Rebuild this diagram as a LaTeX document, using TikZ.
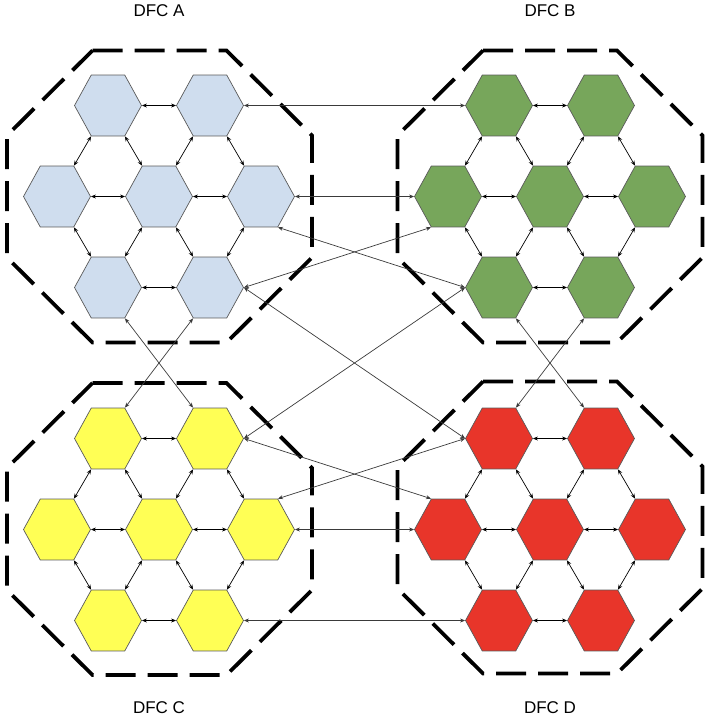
\documentclass[tikz,border=0pt]{standalone}
\usepackage{fontspec}
\setmainfont{Liberation Sans}
\usetikzlibrary{shapes.geometric,arrows.meta}
\definecolor{blueA}{HTML}{CFDDEE}
\definecolor{greenB}{HTML}{77A65B}
\definecolor{yellowC}{HTML}{FFFF55}
\definecolor{redD}{HTML}{E8352A}
\definecolor{hexline}{HTML}{5A5A5A}
\definecolor{farline}{HTML}{3A3A3A}
\tikzset{
  hexcell/.style={regular polygon, regular polygon sides=6, minimum size=67pt,
    inner sep=0pt, draw=hexline, line width=0.7pt, yscale=1.05, transform shape},
  link/.style={{Stealth[length=5pt,width=4pt]}-{Stealth[length=5pt,width=4pt]},
    line width=0.7pt, draw=black},
  farlink/.style={link, draw=farline},
  octo/.style={draw=black, line width=3.8pt, dash pattern=on 30pt off 12pt},
  lab/.style={font=\fontsize{17}{20}\selectfont, inner sep=0pt}
}
\begin{document}
\begin{tikzpicture}[x=1pt,y=-1pt]
\useasboundingbox (0,0) rectangle (705,718);
% octagons
\foreach \cx/\cy in {159.5/196.5, 550/196.5, 159.5/529, 550/527.5}{
  \draw[octo] (\cx-67,\cy-146) -- (\cx+67,\cy-146) -- (\cx+152.5,\cy-61)
    -- (\cx+152.5,\cy+61) -- (\cx+67,\cy+146) -- (\cx-67,\cy+146)
    -- (\cx-152.5,\cy+61) -- (\cx-152.5,\cy-61) -- cycle;
}
% clusters
\foreach \n/\cx/\cy/\col in {A/159/196.5/blueA, B/550/196.5/greenB, C/159/529.5/yellowC, D/550/529.5/redD}{
  \node[hexcell, fill=\col] (\n-TL) at (\cx-51,\cy-91) {};
  \node[hexcell, fill=\col] (\n-TR) at (\cx+51,\cy-91) {};
  \node[hexcell, fill=\col] (\n-ML) at (\cx-102,\cy) {};
  \node[hexcell, fill=\col] (\n-C)  at (\cx,\cy) {};
  \node[hexcell, fill=\col] (\n-MR) at (\cx+102,\cy) {};
  \node[hexcell, fill=\col] (\n-BL) at (\cx-51,\cy+91) {};
  \node[hexcell, fill=\col] (\n-BR) at (\cx+51,\cy+91) {};
  \draw[link] (\n-TL.east) -- (\n-TR.west);
  \draw[link] (\n-ML.east) -- (\n-C.west);
  \draw[link] (\n-C.east) -- (\n-MR.west);
  \draw[link] (\n-BL.east) -- (\n-BR.west);
  \draw[link] (\n-TL.240) -- (\n-ML.60);
  \draw[link] (\n-TL.300) -- (\n-C.120);
  \draw[link] (\n-TR.240) -- (\n-C.60);
  \draw[link] (\n-TR.300) -- (\n-MR.120);
  \draw[link] (\n-ML.300) -- (\n-BL.120);
  \draw[link] (\n-C.240) -- (\n-BL.60);
  \draw[link] (\n-C.300) -- (\n-BR.120);
  \draw[link] (\n-MR.240) -- (\n-BR.60);
}
% inter-cluster links
\draw[farlink] (A-TR.east) -- (B-TL.west);
\draw[farlink] (A-MR.east) -- (B-ML.west);
\draw[farlink] (A-MR.300) -- (B-BL.west);
\draw[farlink] (A-BR.east) -- (B-ML.240);
\draw[farlink] (A-BR.east) -- (D-TL.west);
\draw[farlink] (A-BL.300) -- (C-TR.120);
\draw[farlink] (A-BR.240) -- (C-TL.60);
\draw[farlink] (B-BL.300) -- (D-TR.120);
\draw[farlink] (B-BR.240) -- (D-TL.60);
\draw[farlink] (B-BL.west) -- (C-TR.east);
\draw[farlink] (C-TR.east) -- (D-ML.120);
\draw[farlink] (C-MR.60) -- (D-TL.west);
\draw[farlink] (C-MR.east) -- (D-ML.west);
\draw[farlink] (C-BR.east) -- (D-BL.west);
% labels
\node[lab] (labA) at (159,11) {DFC A};
\node[lab] (labB) at (550,11) {DFC B};
\node[lab] (labC) at (159,708) {DFC C};
\node[lab] (labD) at (550,708) {DFC D};
\end{tikzpicture}
\end{document}
